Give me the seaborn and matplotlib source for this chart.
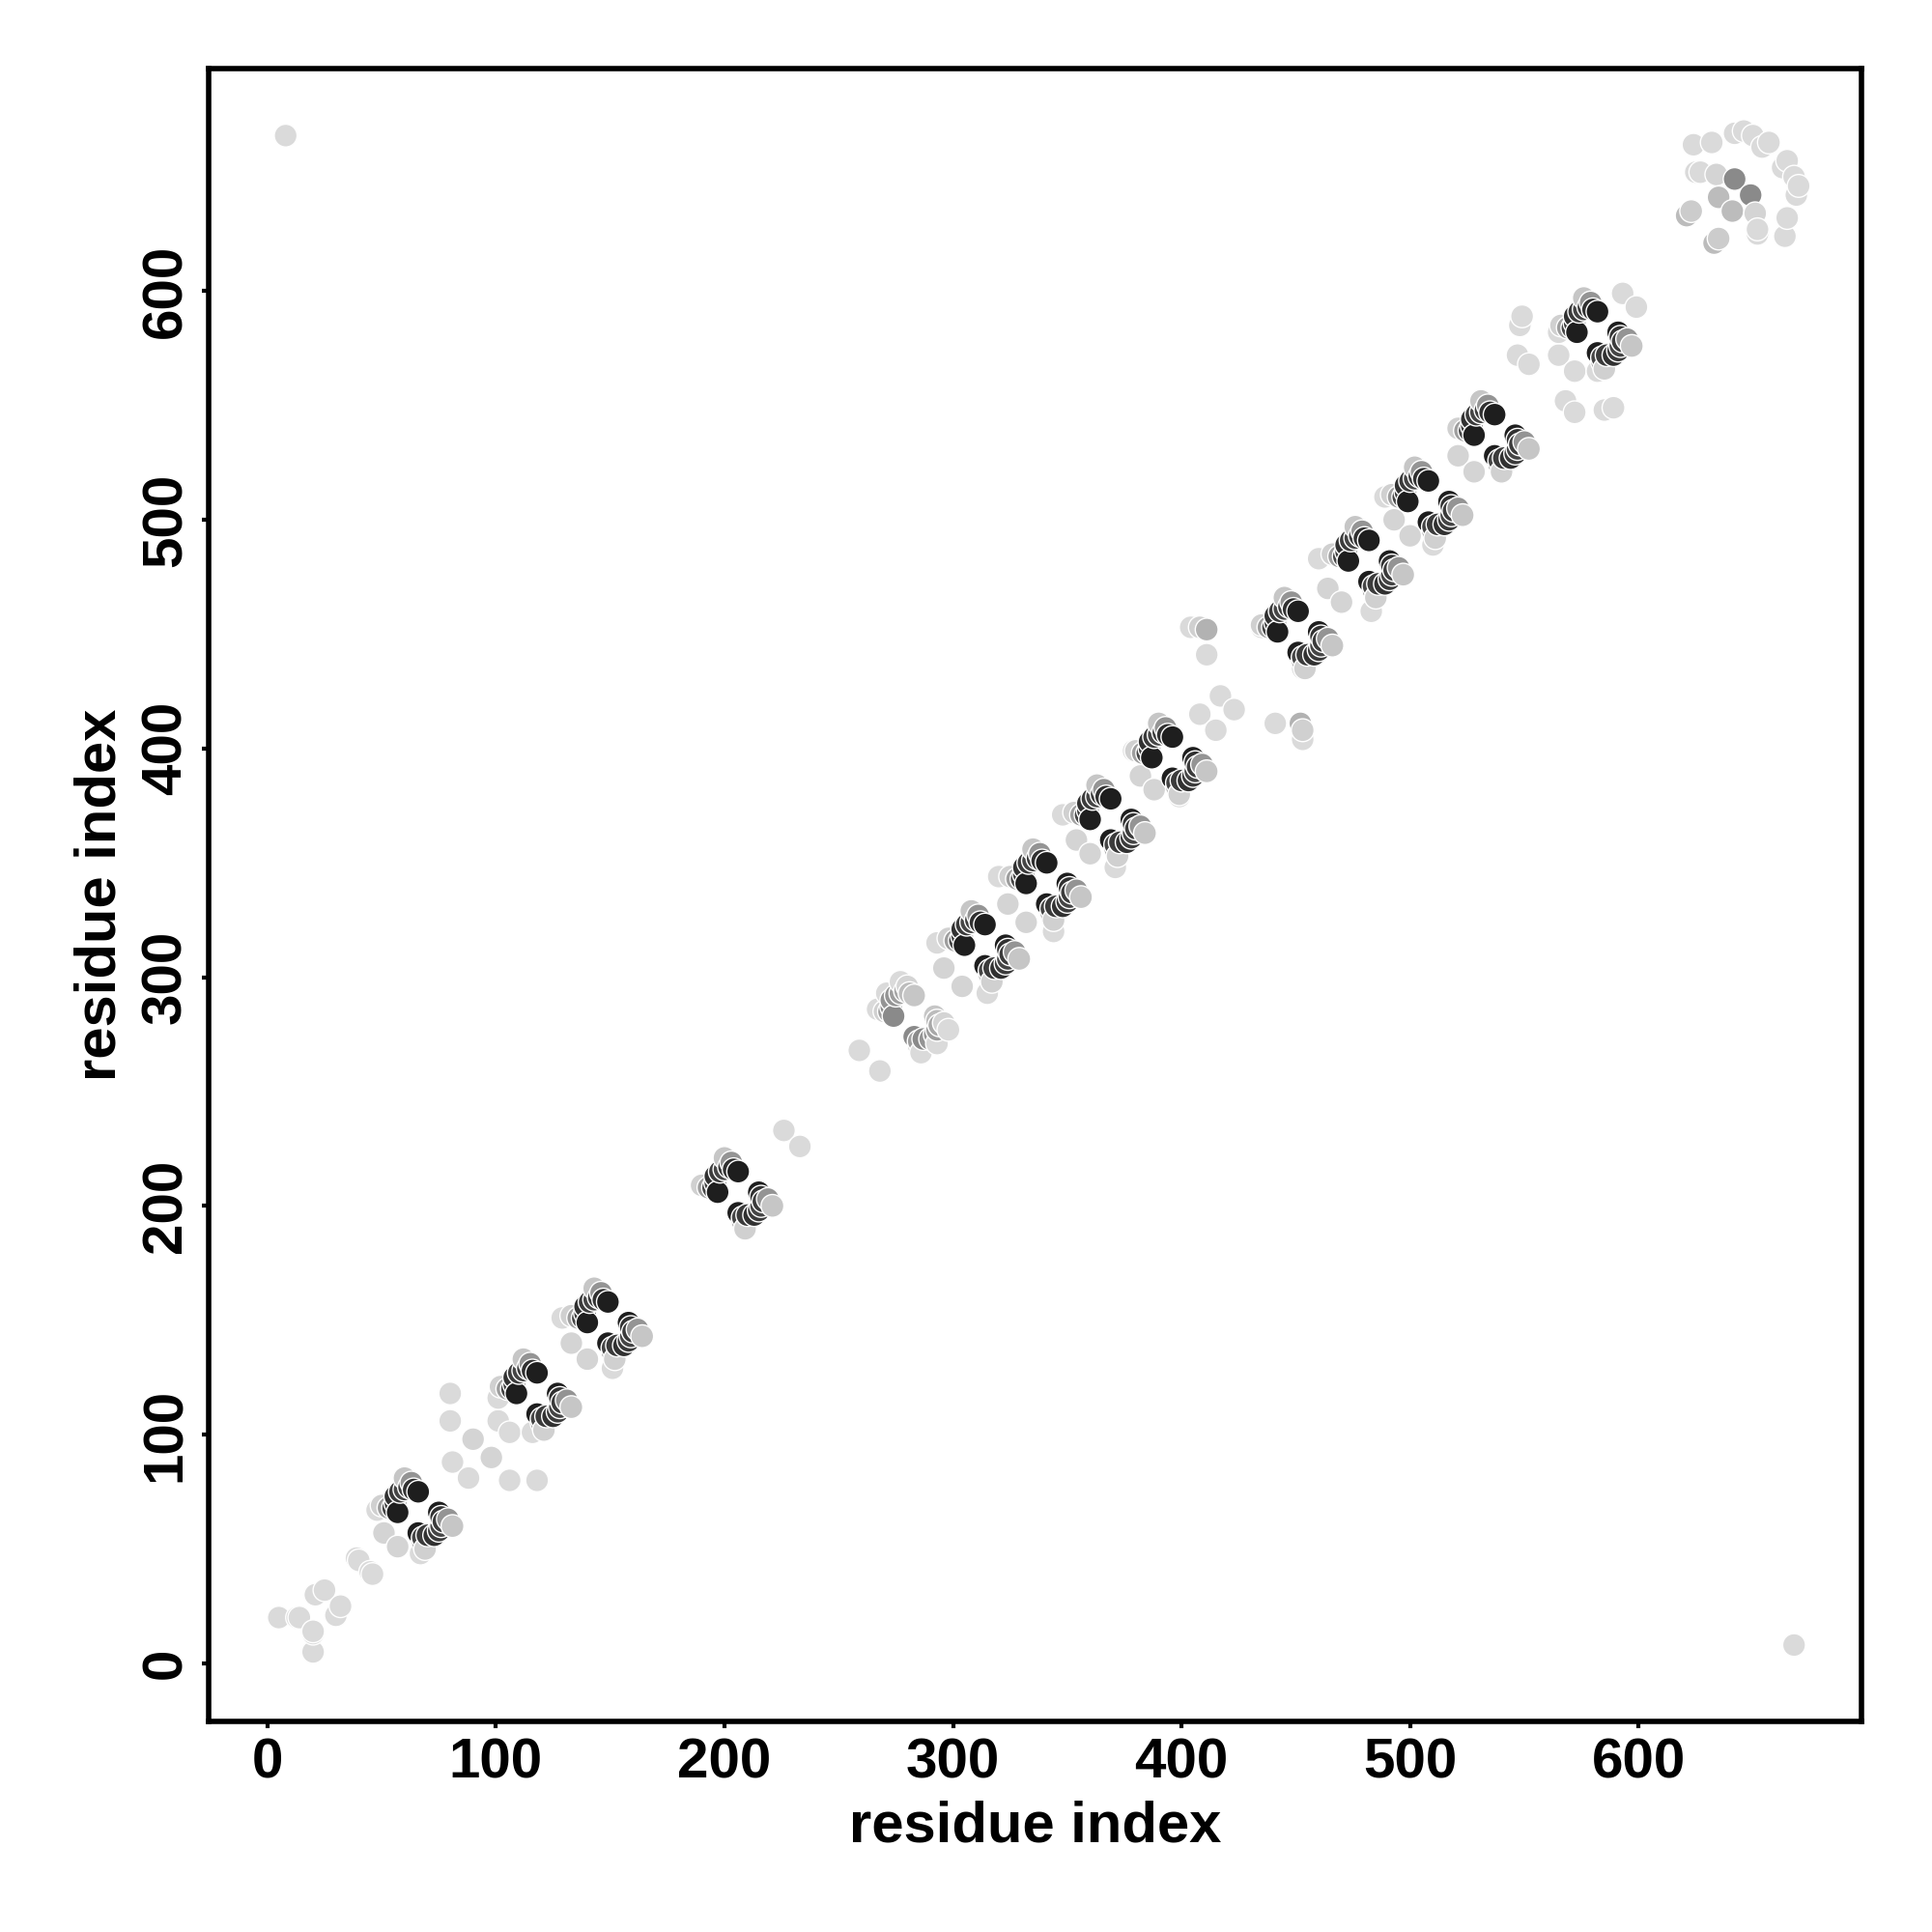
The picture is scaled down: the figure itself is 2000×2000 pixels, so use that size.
import numpy as np
import pandas as pd
import matplotlib
matplotlib.use("Agg")
import matplotlib.pyplot as plt
import seaborn as sns
from matplotlib.colors import LinearSegmentedColormap

# ---- contact pairs (upper triangle, i < j); the map is drawn symmetric ----
# low-region light contacts
res_i_low = [5, 13, 14, 21, 25, 39, 40, 48, 51]
res_j_low = [20, 20, 20, 30, 32, 46, 45, 67, 57]
score_low = [0.05, 0.05, 0.05, 0.05, 0.05, 0.05, 0.05, 0.05, 0.08]

# helix-helix clusters (residue i, residue j)
res_i_h1 = [66, 64, 62, 60, 58, 56, 56, 57, 55, 63, 60, 53, 50]
res_j_h1 = [75, 76, 77, 76, 75, 73, 70, 66, 68, 79, 81, 68, 69]

res_i_mid1 = [80, 80, 81, 90, 101, 101]
res_j_mid1 = [118, 106, 88, 98, 116, 106]
score_mid1 = [0.05, 0.05, 0.05, 0.08, 0.05, 0.05]

res_i_h2 = [118, 116, 114, 112, 110, 108, 108, 109, 107, 115, 112, 105, 102]
res_j_h2 = [127, 128, 129, 128, 127, 125, 122, 118, 120, 131, 133, 120, 121]

res_i_h3 = [149, 147, 145, 143, 141, 139, 139, 140, 138, 146, 143, 136, 133, 129, 133]
res_j_h3 = [158, 159, 160, 159, 158, 156, 153, 149, 151, 162, 164, 151, 152, 151, 140]

res_i_h4 = [206, 204, 202, 200, 198, 196, 196, 197, 195, 203, 200, 193, 190, 226]
res_j_h4 = [215, 216, 217, 216, 215, 213, 210, 206, 208, 219, 221, 208, 209, 233]

res_i_h5 = [283, 281, 279, 277, 275, 273, 273, 274, 272, 280, 277, 270, 267, 259, 271]
res_j_h5 = [292, 293, 294, 293, 292, 290, 287, 283, 285, 296, 298, 285, 286, 268, 293]
score_h5 = [0.15, 0.2, 0.3, 0.35, 0.4, 0.4, 0.45, 0.45, 0.35, 0.08, 0.05, 0.1, 0.05, 0.05, 0.05]

res_i_h6 = [314, 312, 310, 308, 306, 304, 304, 305, 303, 311, 308, 301, 298, 293, 296]
res_j_h6 = [323, 324, 325, 324, 323, 321, 318, 314, 316, 327, 329, 316, 317, 315, 304]

res_i_h7 = [341, 339, 337, 335, 333, 331, 331, 332, 330, 338, 335, 328, 325, 320, 324]
res_j_h7 = [350, 351, 352, 351, 350, 348, 345, 341, 343, 354, 356, 343, 344, 344, 332]

res_i_h8 = [369, 367, 365, 363, 361, 359, 359, 360, 358, 366, 363, 356, 353, 348, 354]
res_j_h8 = [378, 379, 380, 379, 378, 376, 373, 369, 371, 382, 384, 371, 372, 371, 360]

res_i_h9 = [396, 394, 392, 390, 388, 386, 386, 387, 385, 393, 390, 383, 380, 379, 382]
res_j_h9 = [405, 406, 407, 406, 405, 403, 400, 396, 398, 409, 411, 398, 399, 399, 388]

res_i_mid2 = [404, 408, 411, 411, 417, 408]
res_j_mid2 = [453, 453, 452, 441, 423, 415]
score_mid2 = [0.05, 0.1, 0.25, 0.05, 0.05, 0.05]

res_i_h10 = [451, 449, 447, 445, 443, 441, 441, 442, 440, 448, 445, 438, 435, 435]
res_j_h10 = [460, 461, 462, 461, 460, 458, 455, 451, 453, 464, 466, 453, 454, 453]

res_i_h11 = [482, 480, 478, 476, 474, 472, 472, 473, 471, 479, 476, 469, 466, 460, 464]
res_j_h11 = [491, 492, 493, 492, 491, 489, 486, 482, 484, 495, 497, 484, 485, 483, 470]

res_i_h12 = [508, 506, 504, 502, 500, 498, 498, 499, 497, 505, 502, 495, 492, 489, 493]
res_j_h12 = [517, 518, 519, 518, 517, 515, 512, 508, 510, 521, 523, 510, 511, 510, 500]

res_i_h13 = [537, 535, 533, 531, 529, 527, 527, 528, 526, 534, 531, 524, 521, 521]
res_j_h13 = [546, 547, 548, 547, 546, 544, 541, 537, 539, 550, 552, 539, 540, 528]

res_i_h14 = [582, 580, 578, 576, 574, 572, 572, 573, 571, 579, 576, 569, 566,
             565, 548, 549, 547, 552, 565, 593]
res_j_h14 = [591, 592, 593, 592, 591, 589, 586, 582, 584, 595, 597, 584, 585,
             582, 585, 589, 572, 568, 572, 599]

# contact scores of the dark helix clusters (same order as their residue lists)
score_helix = [1.0, 0.9, 0.85, 0.8, 0.85, 0.9, 0.85, 1.0, 0.8, 0.4, 0.15, 0.35, 0.1]
score_sat2 = [0.05, 0.08]

res_i_top = [624, 632, 642, 646, 650, 654, 657, 625, 627, 634, 642, 623, 621, 635, 8]
res_j_top = [664, 665, 669, 670, 668, 663, 665, 652, 652, 651, 649, 635, 633, 641, 668]
score_top = [0.05, 0.05, 0.05, 0.05, 0.05, 0.05, 0.05, 0.05, 0.05, 0.08, 0.45, 0.12, 0.2, 0.2, 0.05]

# ---- assemble (each contact drawn at (i, j) and (j, i)) ----
blocks = [
    (res_i_low, res_j_low, score_low),
    (res_i_h1, res_j_h1, score_helix),
    (res_i_mid1, res_j_mid1, score_mid1),
    (res_i_h2, res_j_h2, score_helix),
    (res_i_h3, res_j_h3, score_helix + score_sat2),
    (res_i_h4, res_j_h4, score_helix + [0.05]),
    (res_i_h5, res_j_h5, score_h5),
    (res_i_h6, res_j_h6, score_helix + score_sat2),
    (res_i_h7, res_j_h7, score_helix + score_sat2),
    (res_i_h8, res_j_h8, score_helix + score_sat2),
    (res_i_h9, res_j_h9, score_helix + score_sat2),
    (res_i_mid2, res_j_mid2, score_mid2),
    (res_i_h10, res_j_h10, score_helix + [0.05]),
    (res_i_h11, res_j_h11, score_helix + score_sat2),
    (res_i_h12, res_j_h12, score_helix + score_sat2),
    (res_i_h13, res_j_h13, score_helix + [0.08]),
    (res_i_h14, res_j_h14, score_helix + [0.05] * 7),
    (res_i_top, res_j_top, score_top),
]
xs, ys, ss = [], [], []
for bi, bj, bs in blocks:
    for a, b, s in zip(bi, bj, bs):
        xs += [a, b]
        ys += [b, a]
        ss += [s, s]
df = pd.DataFrame({"x": xs, "y": ys, "score": ss})
df = df.sort_values(["x", "y"], kind="mergesort").reset_index(drop=True)

# ---- style ----
sns.set_theme(style="white")
plt.rcParams["font.family"] = ["Liberation Sans", "DejaVu Sans"]
plt.rcParams["font.weight"] = "bold"
for key in ["text.color", "axes.labelcolor", "xtick.color", "ytick.color"]:
    plt.rcParams[key] = "black"

cmap = LinearSegmentedColormap.from_list("greys_ct", ["#e3e3e3", "#1e1e1e"])

fig = plt.figure(figsize=(20, 20), dpi=100)
ax = fig.add_axes([0.108, 0.109, 0.9635 - 0.108, 0.9645 - 0.109])

sns.scatterplot(data=df, x="x", y="y", hue="score", palette=cmap, hue_norm=(0, 1),
                s=290, edgecolor="white", linewidth=1.0, legend=False, ax=ax)

ax.set_xlim(-25.7, 697.5)
ax.set_ylim(-25.4, 697.3)
ticks = [0, 100, 200, 300, 400, 500, 600]
ax.set_xticks(ticks)
ax.set_yticks(ticks)
ax.set_xticklabels([str(t) for t in ticks], fontsize=42, fontweight="bold")
ax.set_yticklabels([str(t) for t in ticks], fontsize=42, fontweight="bold",
                   rotation=90, va="center")
ax.tick_params(axis="both", direction="out", length=5, width=3, pad=7,
               bottom=True, left=True, color="black", labelcolor="black")
for sp in ax.spines.values():
    sp.set_visible(True)
    sp.set_linewidth(4)
    sp.set_color("black")
ax.set_xlabel("residue index", fontsize=43, fontweight="bold", labelpad=8, color="black")
ax.set_ylabel("residue index", fontsize=43, fontweight="bold", labelpad=10, color="black")
ax.grid(False)

fig.savefig("out.png", dpi=100, facecolor="white")
